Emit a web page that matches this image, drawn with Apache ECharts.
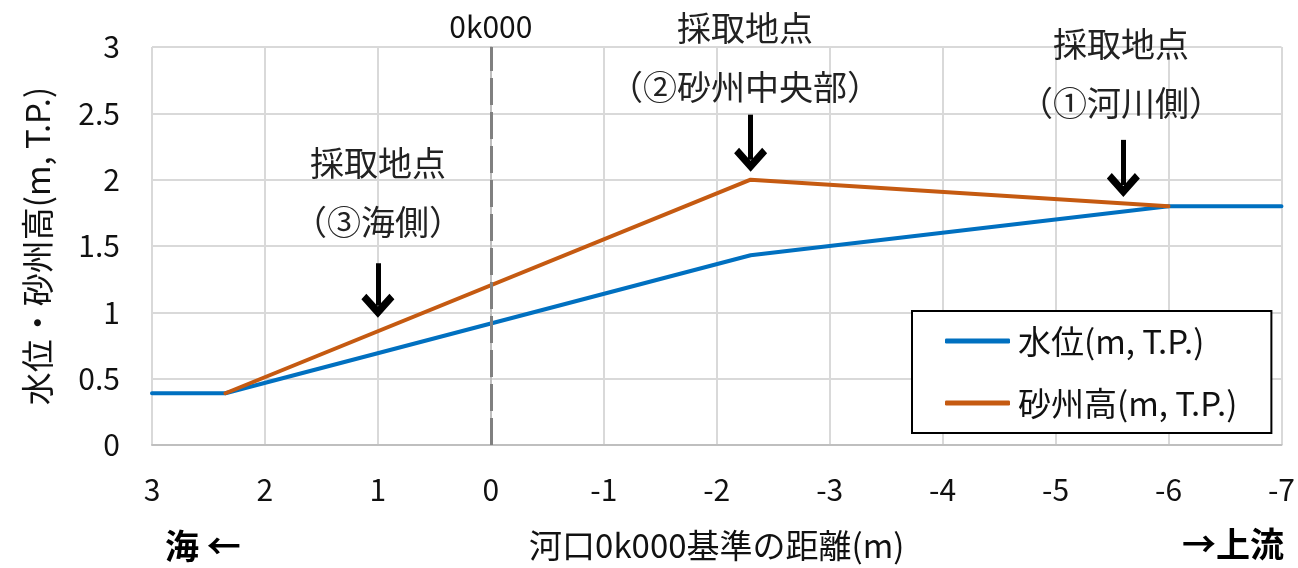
<!DOCTYPE html>
<html>
<head>
<meta charset="utf-8">
<script src="https://cdn.jsdelivr.net/npm/echarts@6/dist/echarts.min.js"></script>
<style>
  html, body { margin: 0; padding: 0; background: #fff; }
  #chart { width: 1298px; height: 568px; }
</style>
</head>
<body>
<div id="chart"></div>
<script>
// Distance from the 0k000 river-mouth reference point (m); positive = sea side
const waterX = [3, 2.35, -2.3, -6, -7];
const waterY = [0.39, 0.39, 1.43, 1.8, 1.8];
const sandX = [2.35, -2.3, -6];
const sandY = [0.39, 2.0, 1.8];

const seriesNames = ['水位(m, T.P.)', '砂州高(m, T.P.)'];
const seriesColors = ['#0070C0', '#C55A11'];

// Sampling-site annotations (text block centre and arrow ends, in data units)
const siteLabels = ['採取地点\n（③海側）', '採取地点\n（②砂州中央部）', '採取地点\n（①河川側）'];
const siteLabelX = [1, -2.25, -5.58];
const siteLabelY = [1.9, 2.92, 2.8];
const arrowX = [1, -2.3, -5.6];
const arrowTop = [1.37, 2.49, 2.3];
const arrowTip = [1.05, 2.15, 1.96];

const refLineX = 0;
const refLineLabel = '0k000';

const FONT = "'Noto Sans CJK JP', Lato, sans-serif";
const TXT = '#111';

// open chevron head pointing along the arrow direction
const chevron = 'path://M10,0 L20,10 L17,13 L10,6 L3,13 L0,10 Z';

const chart = echarts.init(document.getElementById('chart'), null, { renderer: 'canvas' });

const option = {
  animation: false,
  backgroundColor: '#fff',
  textStyle: { fontFamily: FONT, color: TXT },
  grid: { left: 152, right: 13, top: 47, bottom: 123, containLabel: false },
  xAxis: {
    type: 'value',
    inverse: true,
    min: -7, max: 3, interval: 1,
    name: '河口0k000基準の距離(m)',
    nameLocation: 'middle',
    nameGap: 84,
    nameTextStyle: { fontFamily: FONT, fontSize: 33, color: TXT },
    axisLine: { show: true, onZero: false, lineStyle: { color: '#bfbfbf', width: 2 } },
    axisTick: { show: false },
    axisLabel: { margin: 30, fontFamily: FONT, fontSize: 30, color: TXT },
    splitLine: { show: true, lineStyle: { color: '#d9d9d9', width: 2 } }
  },
  yAxis: {
    type: 'value',
    min: 0, max: 3, interval: 0.5,
    name: '水位・砂州高(m, T.P.)',
    nameLocation: 'middle',
    nameGap: 98,
    nameTextStyle: { fontFamily: FONT, fontSize: 33, color: TXT },
    axisLine: { show: true, lineStyle: { color: '#bfbfbf', width: 2 } },
    axisTick: { show: false },
    axisLabel: { margin: 32, fontFamily: FONT, fontSize: 30, color: TXT },
    splitLine: { show: true, lineStyle: { color: '#d9d9d9', width: 2 } }
  },
  legend: {
    data: seriesNames.map((n, i) => ({ name: n, icon: 'roundRect', itemStyle: { color: seriesColors[i] } })),
    orient: 'vertical',
    left: 912, top: 311,
    padding: [12, 34, 12, 33],
    itemGap: 26,
    itemWidth: 65,
    itemHeight: 5,
    borderColor: '#000',
    borderWidth: 2,
    backgroundColor: '#fff',
    textStyle: { fontFamily: FONT, fontSize: 33, lineHeight: 36, color: TXT, padding: [0, 0, 0, 3] }
  },
  series: [
    {
      name: seriesNames[0],
      type: 'line',
      data: waterX.map((x, i) => [x, waterY[i]]),
      symbol: 'none',
      lineStyle: { color: seriesColors[0], width: 4, cap: 'round', join: 'round' },
      itemStyle: { color: seriesColors[0] },
      z: 3
    },
    {
      name: seriesNames[1],
      type: 'line',
      data: sandX.map((x, i) => [x, sandY[i]]),
      symbol: 'none',
      lineStyle: { color: seriesColors[1], width: 4, cap: 'round', join: 'round' },
      itemStyle: { color: seriesColors[1] },
      z: 4
    },
    {
      name: 'annotations',
      type: 'line',
      data: [],
      silent: true,
      markLine: {
        silent: true,
        animation: false,
        data: [
          [
            { coord: [refLineX, 0], symbol: 'none', lineStyle: { color: '#808080', width: 3, type: [27, 7] } },
            { coord: [refLineX, 3], symbol: 'none',
              label: { show: true, position: 'end', formatter: refLineLabel, distance: 5,
                       fontFamily: FONT, fontSize: 30, color: TXT } }
          ]
        ].concat(arrowX.map((x, i) => [
          { coord: [x, arrowTop[i]], symbol: 'none', lineStyle: { color: '#000', width: 5, type: 'solid' } },
          { coord: [x, arrowTip[i]], symbol: chevron, symbolSize: [33, 24], label: { show: false } }
        ]))
      },
      markPoint: {
        silent: true,
        symbol: 'circle',
        symbolSize: 1,
        itemStyle: { color: 'rgba(0,0,0,0)' },
        label: {
          show: true,
          position: 'inside',
          fontFamily: FONT,
          fontSize: 34,
          lineHeight: 59,
          color: '#222',
          align: 'center'
        },
        data: siteLabels.map((t, i) => ({
          coord: [siteLabelX[i], siteLabelY[i]],
          label: { formatter: t }
        }))
      }
    }
  ],
  graphic: [
    {
      type: 'text', left: 165, top: 529,
      style: { text: '海 ←', font: "bold 34px 'Noto Sans CJK JP', sans-serif", fill: '#000' }
    },
    {
      type: 'text', right: 14, top: 527,
      style: { text: '→上流', font: "bold 34px 'Noto Sans CJK JP', sans-serif", fill: '#000' }
    }
  ]
};

chart.setOption(option);
</script>
</body>
</html>
